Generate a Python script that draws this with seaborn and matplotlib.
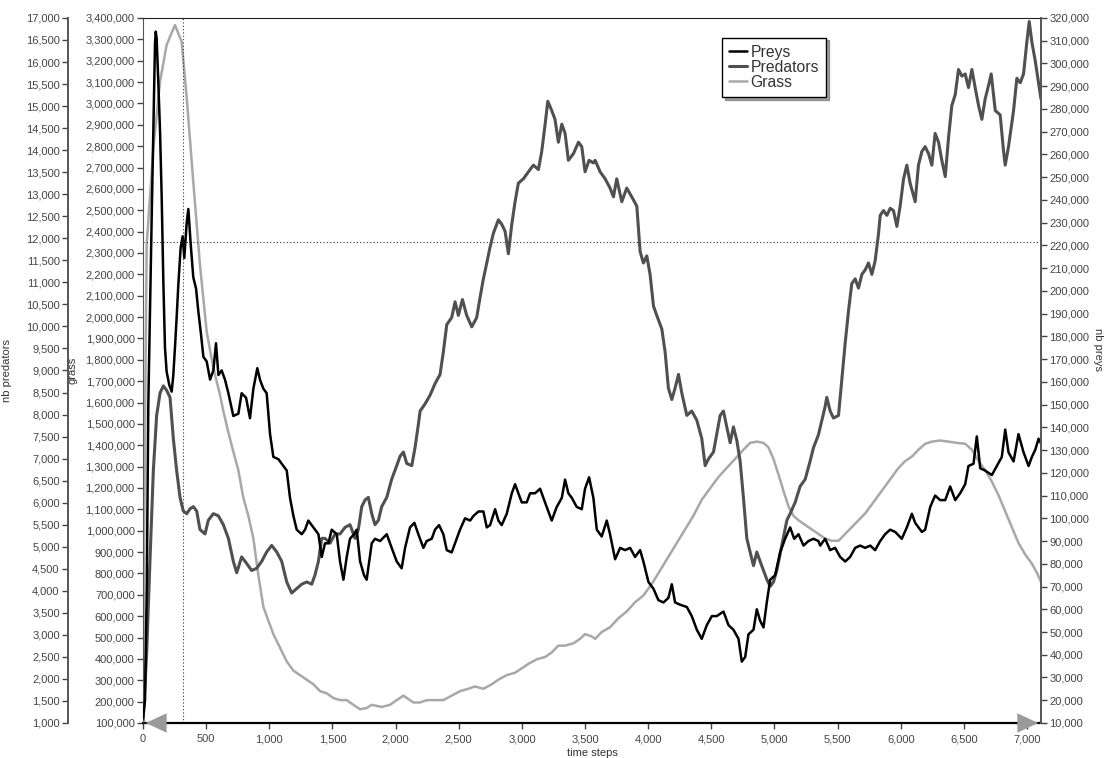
import numpy as np
import pandas as pd
import matplotlib
matplotlib.use("Agg")
import matplotlib.pyplot as plt
from matplotlib.ticker import FuncFormatter, MultipleLocator
import seaborn as sns

# values
prey_t = [0, 16, 30, 42, 69, 87, 95, 101, 108, 121, 135, 148, 161, 174, 187, 208, 227, 240, 253, 267,
          280, 298, 314, 327, 346, 359, 377, 398, 420, 438, 459, 478, 504, 531, 557, 578, 597, 623, 649,
          676, 715, 755,
          781, 816, 847, 874, 905, 926, 953, 979, 1006, 1032, 1072, 1111, 1138, 1164, 1191, 1217, 1257,
          1283, 1309, 1336, 1362, 1389, 1415, 1441, 1468, 1494, 1534, 1560, 1587, 1613, 1639, 1671, 1692,
          1719, 1750, 1771, 1811, 1837, 1877, 1930, 1969, 2009, 2048, 2075, 2114, 2149, 2180, 2220, 2246,
          2286, 2312, 2344, 2378, 2405, 2444, 2484, 2510, 2550, 2590, 2616, 2656, 2695, 2722, 2748, 2788,
          2814, 2840, 2880, 2920, 2946, 2972, 2999, 3038, 3065, 3104, 3144, 3170, 3210, 3236, 3276, 3316,
          3342, 3368, 3395, 3434, 3474, 3500, 3532, 3566, 3593, 3632, 3672, 3698, 3738, 3778, 3817, 3857,
          3896, 3936, 3962, 4002, 4042, 4081, 4121, 4160, 4187, 4213, 4253, 4306, 4345, 4385, 4424, 4464,
          4504, 4543, 4596, 4636, 4675, 4715, 4741, 4768, 4794, 4834, 4860, 4886, 4913, 4939, 4966, 5005,
          5045, 5084, 5124, 5156, 5190, 5230, 5269, 5309, 5348, 5362, 5401, 5441, 5480, 5520, 5560, 5599,
          5639, 5678, 5718, 5758, 5797, 5837, 5876, 5916, 5956, 6008, 6048, 6088, 6114, 6167, 6193, 6233,
          6272, 6312, 6352, 6391, 6431, 6470, 6510, 6536, 6576, 6602, 6629, 6668, 6721, 6761, 6800, 6827,
          6853, 6893, 6932, 6972, 7012, 7038, 7064, 7091, 7110]
preys = [12000, 20000, 70000, 150000, 233000, 285000, 309000, 314000, 311000, 292000, 270000, 241000,
         204000, 175000, 164500, 158600, 155700, 163000, 175000, 189000, 203000, 219000, 224000, 214500,
         230000, 236000, 221000, 206000, 201000, 191000, 181000, 171000, 169000, 161000, 165000, 177000,
         163000, 165000, 161000, 155000, 145000, 146000,
         155000, 153000, 144000, 157000, 166000, 161000, 157000, 155000, 137000,
         127000, 126000, 123000, 121000, 109000, 101000, 95000, 93000, 95000, 99000, 97000, 95000, 93000,
         83000, 89000, 89000, 95000, 93000, 81000, 73000, 83000, 91000, 93000, 95000, 81000, 75000, 73000,
         89000, 91000, 90000, 93000, 87000, 81000, 78000, 87000, 96000, 98000, 93000, 87000, 90000, 91000,
         95000, 97000, 93000, 86000, 85000, 91000, 95000, 100000, 99000, 101000, 103000, 103000, 96000,
         97000, 104000, 99000, 97000, 102000, 111000, 115000, 111000, 107000, 107000, 111000, 111000,
         113000, 109000, 103000, 99000, 105000, 109000, 117000, 111000, 109000, 105000, 104000, 113000,
         118000, 109000, 95000, 92000, 99000, 93000, 82000, 87000, 86000, 87000, 83000, 86000, 81000,
         72000, 69000, 64000, 63000, 65000, 71000, 63000, 62000, 61000, 57000, 51000, 47000, 53000, 57000,
         57000, 59000, 53000, 51000, 47000, 37000, 39000, 49000, 51000, 60000, 55000, 52000, 63000, 73000,
         75000, 85000, 91000, 96000, 91000, 93000, 88000, 90000, 91000, 90000, 88000, 91000, 86000, 87000,
         83000, 81000, 83000, 87000, 88000, 87000, 88000, 86000, 90000, 93000, 95000, 94000, 91000, 96000,
         102000, 98000, 94000, 95000, 105000, 110000, 108000, 108000, 114000, 108000, 111000, 115000,
         123000, 124000, 136000, 122000, 121000, 119000, 123000, 127000, 139000, 129000, 125000, 137000,
         129000, 123000, 127000, 130000, 135000, 133000]

pred_t = [0, 3, 29, 55, 82, 108, 135, 161, 187, 214, 240, 266, 293, 319, 346, 372, 399, 425, 451, 491,
          517, 557, 597, 636, 676, 715, 742, 781, 821, 860, 900, 940, 979, 1019, 1059, 1098, 1138, 1177,
          1217, 1257, 1296, 1336, 1362, 1389, 1415, 1441, 1481, 1521, 1560, 1600, 1639, 1679, 1705, 1732,
          1758, 1784, 1811, 1837, 1864, 1890, 1930, 1969, 2009, 2035, 2062, 2088, 2128, 2154, 2180, 2194,
          2233, 2273, 2312, 2352, 2378, 2405, 2444, 2471, 2497, 2529, 2563, 2603, 2642, 2669, 2695, 2722,
          2748, 2774, 2814, 2840, 2867, 2893, 2920, 2946, 2972, 3012, 3052, 3091, 3131, 3157, 3184, 3205,
          3236, 3262, 3289, 3316, 3342, 3368, 3408, 3448, 3474, 3500, 3532, 3566, 3580, 3619, 3659, 3698,
          3725, 3751, 3791, 3830, 3870, 3910, 3936, 3962, 3989, 4015, 4042, 4068, 4108, 4134, 4160, 4187,
          4213, 4240, 4266, 4306, 4345, 4385, 4424, 4451, 4477, 4517, 4543, 4570, 4596, 4622, 4649, 4675,
          4702, 4728, 4754, 4781, 4807, 4834, 4860, 4886, 4913, 4939, 4966, 4992, 5018, 5058, 5098, 5124,
          5164, 5203, 5243, 5282, 5309, 5348, 5375, 5401, 5414, 5441, 5467, 5507, 5533, 5560, 5586, 5612,
          5639, 5665, 5692, 5718, 5744, 5771, 5797, 5824, 5837, 5863, 5890, 5916, 5942, 5969, 5995, 6022,
          6048, 6074, 6114, 6140, 6167, 6193, 6220, 6246, 6272, 6299, 6325, 6352, 6378, 6404, 6431, 6457,
          6484, 6510, 6536, 6563, 6589, 6616, 6642, 6668, 6695, 6716, 6748, 6787, 6814, 6827, 6853, 6893,
          6919, 6946, 6972, 6998, 7017, 7038, 7064, 7091, 7110]
predators = [1000, 1150, 2600, 4670, 6740, 7980, 8490, 8650, 8550, 8390, 7460, 6740, 6120, 5810, 5750,
             5860, 5910, 5810, 5390, 5290, 5600, 5750, 5700, 5500, 5190, 4670, 4410, 4770, 4620, 4460,
             4510, 4670, 4880, 5030, 4880, 4670, 4200, 3950, 4050, 4150, 4200, 4150, 4360, 4670, 5190,
             5190, 5080, 5290, 5290, 5440, 5500, 5190, 5390, 5910, 6060, 6120, 5750, 5500, 5600, 5910,
             6120, 6530, 6840, 7050, 7150, 6890, 6840, 7250, 7770, 8080, 8240, 8440, 8700, 8910, 9420,
             10040, 10200, 10560, 10250, 10610, 10250, 9990, 10200, 10660, 11080, 11440, 11800, 12110,
             12420, 12320, 12160, 11650, 12320, 12830, 13250, 13350, 13510, 13660, 13560, 13970, 14590,
             15110, 14900, 14700, 14180, 14590, 14380, 13770, 13920, 14180, 14080, 13510, 13770, 13710,
             13770, 13510, 13350, 13140, 12940, 13350, 12830, 13140, 12940, 12730, 11700, 11440, 11600,
             11180, 10460, 10250, 9940, 9420, 8600, 8340, 8600, 8910, 8490, 7980, 8080, 7870, 7460, 6840,
             6990, 7150, 7560, 7980, 8080, 7720, 7360, 7720, 7410, 6940, 6120, 5190, 4880, 4570, 4880,
             4670, 4460, 4260, 4100, 4200, 4460, 5030, 5600, 5750, 6010, 6370, 6530, 6940, 7250, 7540,
             7870, 8180, 8390, 8080, 7920, 7980, 8800, 9630, 10350, 10970, 11080, 10870, 11180, 11280,
             11440, 11180, 11490, 12110, 12520, 12630, 12520, 12680, 12630, 12270, 12730, 13350, 13660,
             13250, 12830, 13660, 13970, 14080, 13920, 13660, 14380, 14180, 13770, 13400, 14280, 15010,
             15260, 15830, 15680, 15730, 15420, 15830, 15420, 15010, 14700, 15160, 15470, 15730, 14900,
             14800, 13970, 13660, 14080, 14900, 15630, 15530, 15730, 16450, 16920, 16450, 16040, 15520,
             15160]

grass_t = [0, 16, 29, 82, 135, 187, 253, 306, 346, 398, 451, 504, 557, 610, 636,
           676, 715, 755, 794, 834, 874, 913, 953, 992, 1032, 1085, 1138, 1191, 1243, 1296, 1349, 1402,
           1454, 1507, 1560, 1613, 1666, 1719, 1771, 1811, 1890, 1956, 2009, 2062, 2088, 2141, 2194, 2246,
           2312, 2378, 2444, 2510, 2576, 2629, 2695, 2761, 2814, 2880, 2946, 2999, 3052, 3118, 3184, 3236,
           3289, 3342, 3408, 3461, 3500, 3553, 3580, 3632, 3698, 3764, 3830, 3896, 3962, 4028, 4094, 4160,
           4226, 4292, 4358, 4424, 4490, 4556, 4622, 4688, 4754, 4807, 4860, 4913, 4952, 4992, 5032, 5071,
           5111, 5150, 5190, 5243, 5296, 5348, 5401, 5454, 5507, 5560, 5612, 5665, 5718, 5771, 5824, 5876,
           5929, 5982, 6035, 6088, 6140, 6193, 6246, 6312, 6378, 6444, 6510, 6563, 6616, 6668, 6721, 6774,
           6827, 6880, 6932, 6985, 7038, 7078, 7110]
grass = [150000, 1500000, 2337000, 2792000, 3103000, 3274000, 3367000, 3289000, 3026000, 2634000,
         2244000, 1932000, 1762000, 1635000, 1560000,
         1460000, 1370000, 1283000, 1155000, 1070000, 963000, 793000, 644000, 580000, 516000, 452000,
         388000, 345000, 324000, 303000, 281000, 249000, 239000, 217000, 207000, 207000, 185000, 164000,
         170000, 185000, 175000, 185000, 207000, 228000, 217000, 196000, 196000, 207000, 207000, 207000,
         228000, 249000, 260000, 271000, 260000, 281000, 303000, 324000, 335000, 356000, 377000, 398000,
         409000, 430000, 462000, 462000, 473000, 494000, 516000, 505000, 494000, 526000, 548000, 590000,
         622000, 665000, 697000, 750000, 814000, 878000, 942000, 1006000, 1070000, 1145000, 1198000,
         1251000, 1294000, 1336000, 1379000, 1411000, 1417000, 1411000, 1390000, 1336000, 1262000,
         1187000, 1113000, 1070000, 1049000, 1027000, 1006000, 985000, 963000, 953000, 953000, 985000,
         1017000, 1049000, 1081000, 1123000, 1166000, 1209000, 1251000, 1294000, 1326000, 1347000,
         1379000, 1407000, 1417000, 1422000, 1417000, 1411000, 1407000, 1379000, 1326000, 1283000,
         1230000, 1166000, 1091000, 1017000, 942000, 889000, 846000, 803000, 761000]

cursor_t = 319
cursor_grass = 2350000

prey_df = pd.DataFrame({"time steps": prey_t, "nb preys": preys})
pred_df = pd.DataFrame({"time steps": pred_t, "nb predators": predators})
grass_df = pd.DataFrame({"time steps": grass_t, "grass": grass})

sns.set_style("white")
plt.rcParams["font.family"] = ["Liberation Sans", "DejaVu Sans"]
plt.rcParams["text.color"] = "#333333"
plt.rcParams["axes.labelcolor"] = "#333333"
plt.rcParams["xtick.color"] = "#444444"
plt.rcParams["ytick.color"] = "#444444"

fig = plt.figure(figsize=(11.06, 7.58), dpi=100)
ax = fig.add_axes([0.1293, 0.0462, 0.8119, 0.9301])
ax_pred = ax.twinx()
ax_prey = ax.twinx()

c_prey, c_pred, c_grass = "#000000", "#505050", "#a8a8a8"

sns.lineplot(data=grass_df, x="time steps", y="grass", ax=ax, color=c_grass, lw=1.8,
             label="Grass", legend=False)
sns.lineplot(data=pred_df, x="time steps", y="nb predators", ax=ax_pred, color=c_pred, lw=2.2,
             label="Predators", legend=False)
sns.lineplot(data=prey_df, x="time steps", y="nb preys", ax=ax_prey, color=c_prey, lw=1.8,
             label="Preys", legend=False)

# cursor cross-hair
ax.axvline(cursor_t, color="#333333", lw=0.8, ls=(0, (1, 2)))
ax.axhline(cursor_grass, color="#333333", lw=0.8, ls=(0, (1, 2)))

fmt = FuncFormatter(lambda v, _: f"{v:,.0f}")

ax.set_xlim(0, 7110)
ax.xaxis.set_major_locator(MultipleLocator(500))
ax.xaxis.set_major_formatter(fmt)
ax.set_xlabel("time steps", fontsize=8, labelpad=3)

ax.set_ylim(100000, 3400000)
ax.yaxis.set_major_locator(MultipleLocator(100000))
ax.yaxis.set_major_formatter(fmt)
ax.set_ylabel("grass", fontsize=8)
ax.yaxis.set_label_coords(-0.0735, 0.5)

ax_pred.set_ylim(1000, 17000)
ax_pred.yaxis.set_major_locator(MultipleLocator(500))
ax_pred.yaxis.set_major_formatter(fmt)
ax_pred.spines["left"].set_position(("axes", -0.0835))
ax_pred.yaxis.set_ticks_position("left")
ax_pred.yaxis.set_label_position("left")
ax_pred.set_ylabel("nb predators", fontsize=8)
ax_pred.yaxis.set_label_coords(-0.146, 0.5)

ax_prey.set_ylim(10000, 320000)
ax_prey.yaxis.set_major_locator(MultipleLocator(10000))
ax_prey.yaxis.set_major_formatter(fmt)
ax_prey.set_ylabel("nb preys", fontsize=8, rotation=270)
ax_prey.yaxis.set_label_coords(1.069, 0.53)

for a in (ax, ax_pred, ax_prey):
    a.tick_params(labelsize=8, length=4, width=1, pad=2)
    for s in a.spines.values():
        s.set_visible(False)

ax.spines["left"].set_visible(True)
ax.spines["left"].set_color("#555555")
ax.spines["top"].set_visible(True)
ax.spines["top"].set_color("#222222")
ax.spines["bottom"].set_visible(True)
ax.spines["bottom"].set_color("#000000")
ax.spines["bottom"].set_linewidth(1.6)
ax.tick_params(axis="x", bottom=True, length=4, pad=4)
ax.tick_params(axis="y", left=True)
ax_pred.spines["left"].set_visible(True)
ax_pred.spines["left"].set_color("#555555")
ax_pred.spines["left"].set_linewidth(1.4)
ax_pred.tick_params(axis="y", left=True, right=False)
ax_prey.spines["right"].set_visible(True)
ax_prey.spines["right"].set_color("#555555")
ax_prey.spines["right"].set_linewidth(1.4)
ax_prey.tick_params(axis="y", right=True)

# grey arrow heads on the time axis
arrow = dict(arrowstyle="-|>,head_length=1.5,head_width=0.7", color="#9a9a9a", lw=0)
ax.annotate("", xy=(0, 0), xytext=(0.028, 0), xycoords="axes fraction",
            textcoords="axes fraction", arrowprops=arrow, annotation_clip=False)
ax.annotate("", xy=(1, 0), xytext=(0.972, 0), xycoords="axes fraction",
            textcoords="axes fraction", arrowprops=arrow, annotation_clip=False)

handles = [ax_prey.get_lines()[0], ax_pred.get_lines()[0], ax.get_lines()[0]]
leg = ax_prey.legend(handles, ["Preys", "Predators", "Grass"], loc="upper left",
                     bbox_to_anchor=(0.645, 0.972), borderaxespad=0, fontsize=11.3,
                     frameon=True, fancybox=False, shadow=True, edgecolor="#000000",
                     framealpha=1, handlelength=1.1, handletextpad=0.25, labelspacing=0.0,
                     borderpad=0.45)
leg.get_frame().set_linewidth(1.0)

fig.savefig("out.png", dpi=100)
